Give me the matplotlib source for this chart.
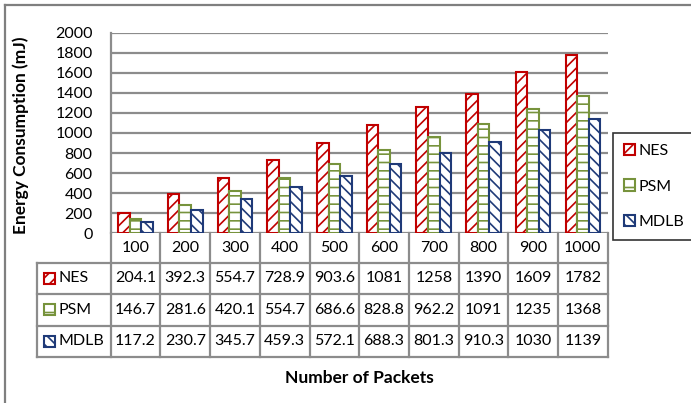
import matplotlib
matplotlib.use("Agg")
import matplotlib.pyplot as plt
from matplotlib.patches import Rectangle
from matplotlib.lines import Line2D
from matplotlib.transforms import blended_transform_factory

# Energy consumption (mJ) per protocol vs number of packets
packets = ["100", "200", "300", "400", "500", "600", "700", "800", "900", "1000"]
nes = [204.1, 392.3, 554.7, 728.9, 903.6, 1081, 1258, 1390, 1609, 1782]
psm = [146.7, 281.6, 420.1, 554.7, 686.6, 828.8, 962.2, 1091, 1235, 1368]
mdlb = [117.2, 230.7, 345.7, 459.3, 572.1, 688.3, 801.3, 910.3, 1030, 1139]
series_names = ["NES", "PSM", "MDLB"]
y_ticks = [0, 200, 400, 600, 800, 1000, 1200, 1400, 1600, 1800, 2000]

colors = ["#C00000", "#77933C", "#1F3A78"]
hatches = ["///", "--", "\\\\\\"]

plt.rcParams["font.family"] = ["Lato", "DejaVu Sans"]
plt.rcParams["hatch.linewidth"] = 1.2

W, H = 691, 403
fig = plt.figure(figsize=(W / 100, H / 100), dpi=100)


def fx(px):
    return px / W


def fy(py):
    return 1 - py / H


grid_c = "#8C8C8C"
left, right, top, bottom = 110.7, 607.7, 32.7, 233.3
ax = fig.add_axes([fx(left), fy(bottom), (right - left) / W, (bottom - top) / H])

n = len(packets)
xs = list(range(n))
bw = 0.232
data = [nes, psm, mdlb]
for k, (vals, c, h, name) in enumerate(zip(data, colors, hatches, series_names)):
    ax.bar([x + (k - 1) * bw for x in xs], vals, width=bw, facecolor="white",
           edgecolor=c, hatch=h, linewidth=1.5, label=name, zorder=3)

ax.set_xlim(-0.5, n - 0.5)
ax.set_ylim(0, 2000)
ax.set_yticks(y_ticks)
ax.set_xticks([])
ax.tick_params(axis="y", length=0, pad=13, labelsize=11.5)
ax.yaxis.grid(True, color=grid_c, linewidth=1.6, zorder=0)
for s in ["top", "right", "bottom"]:
    ax.spines[s].set_visible(False)
ax.spines["left"].set_color(grid_c)
ax.spines["left"].set_linewidth(1.6)
ax.set_axisbelow(True)

ax.set_ylabel("Energy Consumption (mJ)", fontsize=12.5, fontweight="bold")
ax.yaxis.set_label_coords((29 - left) / (right - left), (bottom - 135) / (bottom - top))

# Data table under the plot
tr = blended_transform_factory(ax.transData, fig.transFigure)
tra = blended_transform_factory(ax.transAxes, fig.transFigure)
row_lines = [bottom, 262.5, 293.5, 325.5, 357.0]
tbl_left = 36.7
left_frac = (tbl_left - left) / (right - left)

for i in range(n + 1):
    ax.add_line(Line2D([i - 0.5, i - 0.5], [fy(row_lines[0]), fy(row_lines[-1])],
                       transform=tr, color=grid_c, lw=1.6, clip_on=False))
for yl in row_lines[1:]:
    ax.add_line(Line2D([left_frac, 1], [fy(yl), fy(yl)], transform=tra,
                       color=grid_c, lw=1.6, clip_on=False))
ax.add_line(Line2D([left_frac, left_frac], [fy(row_lines[1]), fy(row_lines[-1])],
                   transform=tra, color=grid_c, lw=1.6, clip_on=False))

hdr_y = (row_lines[0] + row_lines[1]) / 2
for i, lab in enumerate(packets):
    ax.text(i, fy(hdr_y), lab, transform=tr, ha="center", va="center", fontsize=11.5)

for r, (vals, c, h, name) in enumerate(zip(data, colors, hatches, series_names)):
    cy = (row_lines[r + 1] + row_lines[r + 2]) / 2
    for i, v in enumerate(vals):
        ax.text(i, fy(cy), f"{v:g}", transform=tr, ha="center", va="center", fontsize=11.5)
    fig.patches.append(Rectangle((fx(44), fy(cy + 5.5)), 11 / W, 11 / H,
                                 transform=fig.transFigure, facecolor="white",
                                 edgecolor=c, hatch=h, linewidth=1.5))
    fig.text(fx(59), fy(cy), name, ha="left", va="center", fontsize=11.5)

fig.text(fx(359), fy(378), "Number of Packets", ha="center", va="center",
         fontsize=12.5, fontweight="bold")

# Legend on the right
leg = fig.legend(loc="upper left", bbox_to_anchor=(fx(613.3), fy(133.3), (689.3 - 613.3) / W, 0),
                 bbox_transform=fig.transFigure, borderaxespad=0, fontsize=11.5,
                 frameon=True, fancybox=False, handlelength=0.7, handleheight=0.7,
                 handletextpad=0.25, labelspacing=1.35, borderpad=0.65)
leg.get_frame().set_edgecolor("black")
leg.get_frame().set_linewidth(1.2)

# Outer frame of the figure
fig.add_artist(Line2D([fx(5), fx(5)], [fy(5), 0], transform=fig.transFigure,
                      color="#7F7F7F", lw=1.6))
fig.add_artist(Line2D([fx(5), 1], [fy(5), fy(5)], transform=fig.transFigure,
                      color="#7F7F7F", lw=1.6))

fig.savefig("out.png", dpi=100)
